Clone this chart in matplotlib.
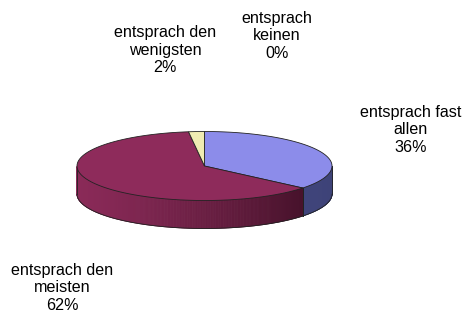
import numpy as np
import matplotlib
matplotlib.use("Agg")
import matplotlib.pyplot as plt
from matplotlib.patches import Polygon
from matplotlib.colors import to_rgb

categories = ["entsprach fast\nallen", "entsprach den\nmeisten", "entsprach den\nwenigsten", "entsprach\nkeinen"]
values = [36, 62, 2, 0]
top_colors = ["#8C8CEA", "#8E2B5B", "#F0ECB2", "#CCFFFF"]
side_light = ["#4C5194", "#8A2A58", "#D8D49A", "#A0CCCC"]
side_dark = ["#3E4378", "#3C0E24", "#B8B480", "#80AAAA"]
label_pos = [(411, 130), (62, 288), (165, 50), (277, 36)]

W, H = 462, 315
fig = plt.figure(figsize=(W / 100, H / 100), dpi=100)
ax = fig.add_axes([0, 0, 1, 1])
ax.set_xlim(0, W)
ax.set_ylim(H, 0)
ax.axis("off")

cx, cy, rx, ry, depth = 204.5, 166.0, 127.5, 34.5, 28.0


def pt(t, dy=0.0):
    r = np.radians(t)
    return cx + rx * np.cos(r), cy - ry * np.sin(r) + dy


total = float(sum(values))
starts, ends = [], []
a = 90.0
for v in values:
    sweep = 360.0 * v / total
    starts.append(a)
    ends.append(a - sweep)
    a -= sweep

for i, v in enumerate(values):
    if v <= 0:
        continue
    s, e = starts[i], ends[i]
    ts = np.linspace(e, s, 400)
    tm = np.mod(ts, 360)
    front = (tm >= 180) & (tm <= 360)
    idx = np.where(front)[0]
    if len(idx) < 2:
        continue
    runs = np.split(idx, np.where(np.diff(idx) != 1)[0] + 1)
    cl, cd = np.array(to_rgb(side_light[i])), np.array(to_rgb(side_dark[i]))
    for run in runs:
        if len(run) < 2:
            continue
        tr = ts[run]
        for k in range(len(tr) - 1):
            t0, t1 = tr[k], tr[k + 1]
            xm = pt((t0 + t1) / 2)[0]
            f = np.clip((xm - (cx - rx)) / (2 * rx), 0, 1)
            if i == 1:
                col = cl * (1 - f ** 1.3) + cd * f ** 1.3
            else:
                col = cl * (1 - f) + cd * f
            p0, p1 = pt(t0), pt(t1)
            q1, q0 = pt(t1, depth), pt(t0, depth)
            ax.add_patch(Polygon([p0, p1, q1, q0], closed=True, facecolor=col,
                                 edgecolor=col, linewidth=0.6, zorder=2))
        tt = np.linspace(tr[0], tr[-1], 200)
        bx, by = pt(tt, depth)
        ax.plot(bx, by, color="#222222", lw=0.6, zorder=3)
        for tv in (tr[0], tr[-1]):
            x0, y0 = pt(tv)
            x1, y1 = pt(tv, depth)
            ax.plot([x0, x1], [y0, y1], color="#222222", lw=0.6, zorder=3)

for i, v in enumerate(values):
    if v <= 0:
        continue
    ts = np.linspace(starts[i], ends[i], 300)
    xs, ys = pt(ts)
    poly = [(cx, cy)] + list(zip(xs, ys))
    ax.add_patch(Polygon(poly, closed=True, facecolor=top_colors[i],
                         edgecolor="#222222", linewidth=0.6, zorder=4))

for i, (lab, v) in enumerate(zip(categories, values)):
    x, y = label_pos[i]
    ax.text(x, y, f"{lab}\n{v}%", ha="center", va="center", multialignment="center",
            fontsize=11.6, family="Liberation Sans", linespacing=1.2,
            color="black", zorder=5)

fig.savefig("out.png", dpi=100)
